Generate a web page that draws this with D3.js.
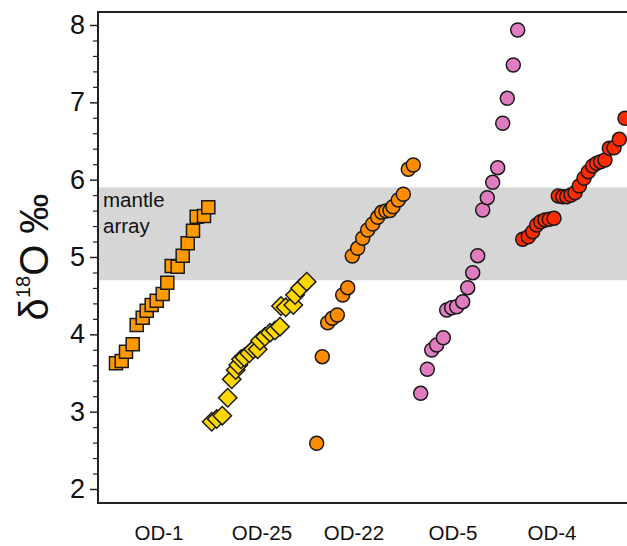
<!DOCTYPE html>
<html>
<head>
<meta charset="utf-8">
<script src="https://cdn.jsdelivr.net/npm/d3@7"></script>
<style>
  html, body { margin: 0; padding: 0; background: #fff; }
  svg { display: block; font-family: "Liberation Sans", Arial, Helvetica, sans-serif; }
</style>
</head>
<body>
<svg id="chart" width="627" height="546"></svg>
<script>
// ---- Data ----
const categories = ["OD-1", "OD-25", "OD-22", "OD-5", "OD-4"];
const categoryPos = [61, 164, 256, 355, 454];   // label positions on x scale
const yTicks = [2, 3, 4, 5, 6, 7, 8];
const mantleArray = [4.7, 5.9];

// OD-1 (squares)
const od1X = [18, 23.7, 28, 34.7, 38.7, 44.7, 48.7, 53.7, 58.7, 64.7, 69.3, 73.7, 79.7, 84.7, 89.7, 95, 98.7, 106, 110.3];
const od1Y = [3.625, 3.655, 3.775, 3.871, 4.12, 4.215, 4.305, 4.379, 4.435, 4.521, 4.668, 4.884, 4.875, 5.017, 5.177, 5.34, 5.521, 5.53, 5.643];

// OD-25 (diamonds)
const od25X = [113.7, 118.7, 124.3, 129.7, 133.7, 137.7, 140.3, 143, 146.3, 151.3, 155.3, 159.7, 162, 167, 172, 177, 182, 183, 187.7, 195.3, 197, 202, 208.7];
const od25Y = [2.87, 2.905, 2.948, 3.18, 3.418, 3.539, 3.603, 3.677, 3.703, 3.755, 3.806, 3.806, 3.917, 3.969, 4.021, 4.05, 4.099, 4.366, 4.349, 4.379, 4.508, 4.595, 4.681];

// OD-22 (circles)
const od22X = [218.7, 224.3, 229.7, 234.3, 239.3, 244.7, 249.7, 254.3, 259.7, 264.7, 269.7, 274.7, 279.7, 283.7, 288, 292, 295, 300.3, 305.3, 310.3, 315.3];
const od22Y = [2.591, 3.711, 4.15, 4.207, 4.25, 4.509, 4.603, 5.013, 5.112, 5.242, 5.349, 5.427, 5.513, 5.578, 5.595, 5.6, 5.65, 5.737, 5.811, 6.134, 6.19];

// OD-5 (circles)
const od5X = [322.7, 329.3, 333.7, 338.7, 345.3, 348.7, 353.7, 358.7, 364.7, 369.7, 374.7, 379.7, 384.7, 389.3, 394.7, 399.7, 404.7, 409.3, 415.3, 419.7];
const od5Y = [3.237, 3.548, 3.797, 3.862, 3.956, 4.315, 4.344, 4.357, 4.422, 4.603, 4.797, 5.017, 5.608, 5.767, 5.966, 6.155, 6.729, 7.052, 7.483, 7.935];

// OD-4 (circles)
const od4X = [424.7, 430.3, 434.7, 438.7, 442.7, 447, 451.3, 456, 460.3, 464.7, 468.7, 473, 477, 481.3, 486, 490.3, 494.7, 498.7, 502.7, 507, 511.3, 516, 521.3, 527];
const od4Y = [5.229, 5.262, 5.327, 5.414, 5.456, 5.478, 5.487, 5.5, 5.789, 5.78, 5.78, 5.802, 5.831, 5.918, 6.018, 6.103, 6.177, 6.212, 6.232, 6.254, 6.406, 6.413, 6.522, 6.793];

const series = [
  { name: "OD-1",  xs: od1X,  ys: od1Y,  shape: "square",  color: "#FF9900" },
  { name: "OD-25", xs: od25X, ys: od25Y, shape: "diamond", color: "#FFD700" },
  { name: "OD-22", xs: od22X, ys: od22Y, shape: "circle",  color: "#FF8C00" },
  { name: "OD-5",  xs: od5X,  ys: od5Y,  shape: "circle",  color: "#E07CC0" },
  { name: "OD-4",  xs: od4X,  ys: od4Y,  shape: "circle",  color: "#FF2A00" }
];

// ---- Layout ----
const svg = d3.select("#chart");
const mLeft = 98, mRight = 627, mTop = 12, mBottom = 503;

const x = d3.scaleLinear().domain([0, 529]).range([mLeft, mRight]);
const y = d3.scaleLinear().domain([2, 8]).range([489, 25]);
const yBottomVal = y.invert(mBottom), yTopVal = y.invert(mTop);

// mantle array band
svg.append("rect")
  .attr("x", x(0)).attr("width", mRight - x(0))
  .attr("y", y(mantleArray[1])).attr("height", y(mantleArray[0]) - y(mantleArray[1]))
  .attr("fill", "#D6D6D6");

svg.append("text").attr("x", 103).attr("y", 207).attr("font-size", 20.5).attr("fill", "#111").text("mantle");
svg.append("text").attr("x", 103).attr("y", 233).attr("font-size", 20.5).attr("fill", "#111").text("array");

// points
const sym = {
  square: d3.symbol().type(d3.symbolSquare).size(170),
  diamond: d3.symbol().type(d3.symbolSquare).size(170),
};
series.forEach(s => {
  const g = svg.append("g");
  const pts = s.xs.map((v, i) => ({ x: v, y: s.ys[i] }));
  if (s.shape === "circle") {
    g.selectAll("circle").data(pts).join("circle")
      .attr("cx", d => x(d.x)).attr("cy", d => y(d.y)).attr("r", 7)
      .attr("fill", s.color).attr("stroke", "#1a1a1a").attr("stroke-width", 1.5);
  } else {
    g.selectAll("path").data(pts).join("path")
      .attr("d", sym[s.shape])
      .attr("transform", d => `translate(${x(d.x)},${y(d.y)})` + (s.shape === "diamond" ? " rotate(45)" : ""))
      .attr("fill", s.color).attr("stroke", "#1a1a1a").attr("stroke-width", 1.5);
  }
});

// frame (top, left, bottom)
svg.append("path")
  .attr("d", `M${mRight},${mTop}H${mLeft}V${mBottom}H${mRight}`)
  .attr("fill", "none").attr("stroke", "#222").attr("stroke-width", 2);

// y axis: minor ticks
const minor = d3.range(Math.ceil(yBottomVal * 5) / 5, yTopVal, 0.2).filter(v => Math.abs(v - Math.round(v)) > 0.01);
svg.append("g").attr("transform", `translate(${mLeft},0)`)
  .call(d3.axisLeft(y).tickValues(minor).tickSize(5).tickFormat(""))
  .call(g => g.select(".domain").remove())
  .call(g => g.selectAll("line").attr("stroke", "#222").attr("stroke-width", 1.2));

// y axis: major ticks
svg.append("g").attr("transform", `translate(${mLeft},0)`)
  .call(d3.axisLeft(y).tickValues(yTicks).tickSize(8).tickPadding(5).tickFormat(d3.format("d")))
  .call(g => g.select(".domain").remove())
  .call(g => g.selectAll("line").attr("stroke", "#222").attr("stroke-width", 1.5))
  .call(g => g.selectAll("text").attr("font-size", 27).attr("fill", "#111")
    .attr("font-family", "'Liberation Sans', Arial, Helvetica, sans-serif"));

// category labels
svg.append("g").selectAll("text").data(categories).join("text")
  .attr("x", (d, i) => x(categoryPos[i])).attr("y", 540)
  .attr("text-anchor", "middle").attr("font-size", 20.5).attr("fill", "#111")
  .text(d => d);

// y axis title
const yt = svg.append("text")
  .attr("transform", "translate(48,257) rotate(-90)")
  .attr("text-anchor", "middle").attr("font-size", 40).attr("fill", "#111");
yt.append("tspan").text("δ");
yt.append("tspan").attr("font-size", 20).attr("dy", -18).text("18");
yt.append("tspan").attr("dy", 18).text("O ‰");
</script>
</body>
</html>
